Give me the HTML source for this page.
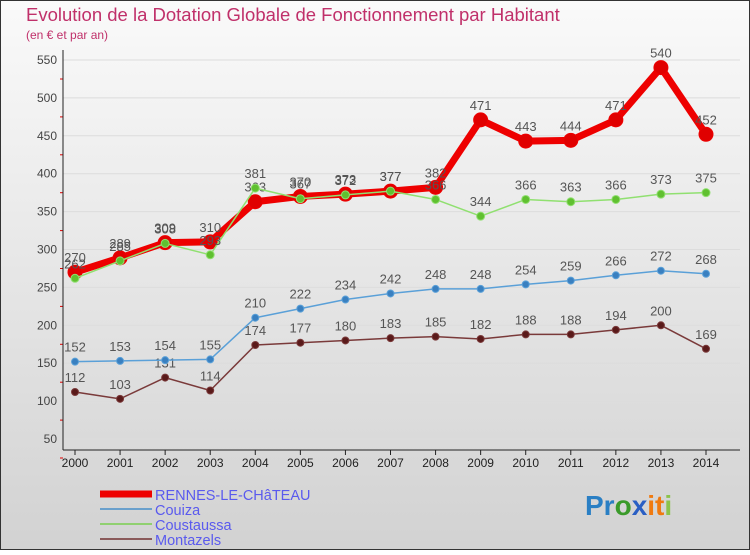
<!DOCTYPE html>
<html><head><meta charset="utf-8"><style>
body{margin:0;width:750px;height:550px;overflow:hidden;font-family:"Liberation Sans",sans-serif}
svg text{font-family:"Liberation Sans",sans-serif}
</style></head><body>
<svg id="c" width="750" height="550" xmlns="http://www.w3.org/2000/svg">
<defs><linearGradient id="bg" x1="0" y1="0" x2="0" y2="1"><stop offset="0" stop-color="#fafafa"/><stop offset="1" stop-color="#d2d2d2"/></linearGradient></defs>
<rect x="0.5" y="0.5" width="749" height="549" fill="url(#bg)" stroke="#333"/>
<text x="26" y="21" font-size="18.5" fill="#c0306a">Evolution de la Dotation Globale de Fonctionnement par Habitant</text>
<text x="26" y="39" font-size="12" fill="#c0306a">(en € et par an)</text>
<g id="grid"></g><g id="axes"></g><g id="series"></g><g id="legend"></g>
<text x="585" y="515" font-size="28" font-weight="bold"><tspan fill="#2a7fc4">Pr</tspan><tspan fill="#3a9a2a">o</tspan><tspan fill="#2a5fc4">x</tspan><tspan fill="#f07a10">it</tspan><tspan fill="#8bc34a">i</tspan></text>
</svg>
<script>
const years=[2000,2001,2002,2003,2004,2005,2006,2007,2008,2009,2010,2011,2012,2013,2014];
const yTicks=[50,100,150,200,250,300,350,400,450,500,550];
const rennes=[270,289,309,310,363,370,373,377,382,471,443,444,471,540,452];
const couiza=[152,153,154,155,210,222,234,242,248,248,254,259,266,272,268];
const coustaussa=[262,285,308,293,381,367,372,377,366,344,366,363,366,373,375];
const montazels=[112,103,131,114,174,177,180,183,185,182,188,188,194,200,169];
const NS="http://www.w3.org/2000/svg";
const X0=75,X1=706,Y0=439,Y1=60,VMIN=50,VMAX=550;
function xs(i){return X0+(X1-X0)*i/(years.length-1);}
function ys(v){return Y0-(v-VMIN)*(Y0-Y1)/(VMAX-VMIN);}
function mk(t,a,p){const e=document.createElementNS(NS,t);for(const k in a)e.setAttribute(k,a[k]);p.appendChild(e);return e;}
const grid=document.getElementById('grid'),axes=document.getElementById('axes'),ser=document.getElementById('series'),leg=document.getElementById('legend');
yTicks.forEach(v=>{
 const l=mk('line',{x1:63,x2:740,y1:ys(v),y2:ys(v),stroke:'#dcdcdc'},grid);
 
 
 const t=mk('text',{x:57,y:ys(v)+4,'text-anchor':'end','font-size':12,fill:'#444'},axes);t.textContent=v;
 
 
 const m=mk('line',{x1:60,x2:63,y1:ys(v)+19,y2:ys(v)+19,stroke:'#d00'},axes);
 
 
});
const ya=mk('line',{x1:63,x2:63,y1:50,y2:450,stroke:'#222'},axes);


const xa=mk('line',{x1:63,x2:740,y1:450,y2:450,stroke:'#222'},axes);


years.forEach((y,i)=>{
 const tk=mk('line',{x1:xs(i),x2:xs(i),y1:450,y2:455,stroke:'#222'},axes);
 
 
 const t=mk('text',{x:xs(i),y:467,'text-anchor':'middle','font-size':12,fill:'#222'},axes);t.textContent=y;
 
 
});
function draw(data,name,color,dot,w,r){
 const g=mk('g',{},ser);
 
 
 const pl=mk('polyline',{points:data.map((v,i)=>xs(i)+','+ys(v)).join(' '),fill:'none',stroke:color,'stroke-width':w,'stroke-linejoin':'round'},g);
 
 
 data.forEach((v,i)=>{
  const c=mk('circle',{cx:xs(i),cy:ys(v),r:r,fill:dot,stroke:color,'stroke-width':1},g);
  
  
  const t=mk('text',{x:xs(i),y:ys(v)-10,'text-anchor':'middle','font-size':13,fill:'#555'},g);t.textContent=v;
  
  
 });
}
draw(montazels,'montazels','#7a3a3a','#5a1a1a',1.5,3.5);
draw(couiza,'couiza','#5aa0d8','#3a80c0',1.5,3.5);
draw(rennes,'rennes','#ee0000','#e00000',7,7);
draw(coustaussa,'coustaussa','#90e070','#60c030',1.5,4);
const L=[['RENNES-LE-CHâTEAU','#ee0000',7],['Couiza','#6aa0cc',2],['Coustaussa','#90d070',2],['Montazels','#8a5a5a',2]];
L.forEach((e,i)=>{
 const y=494+i*15;
 const l=mk('line',{x1:100,x2:152,y1:y,y2:y,stroke:e[1],'stroke-width':e[2]},leg);
 
 
 const t=mk('text',{x:155,y:y+6,'font-size':14.5,fill:'#5a5aee'},leg);t.textContent=e[0];
 
 
});
</script>
</body></html>
